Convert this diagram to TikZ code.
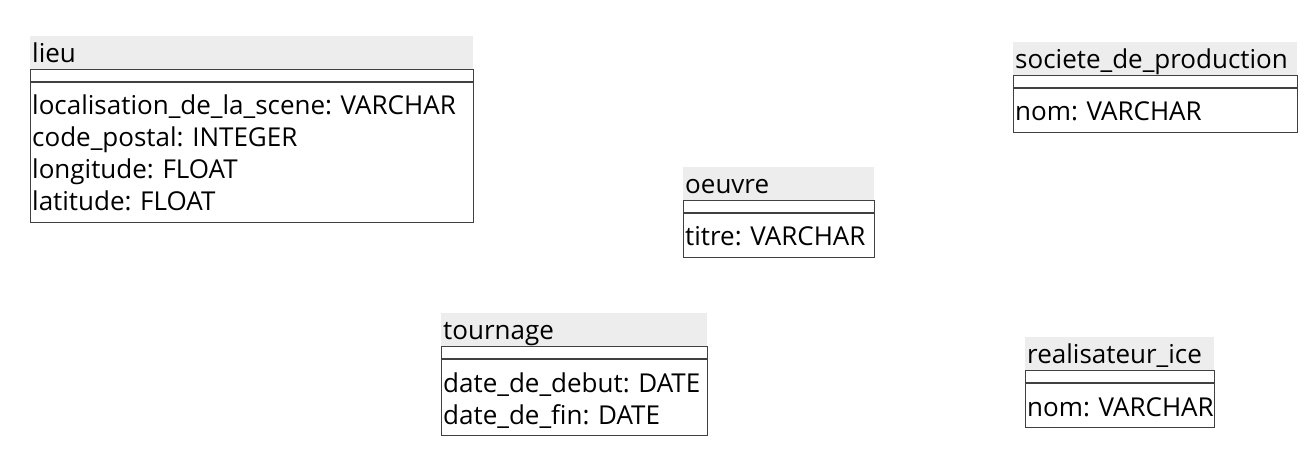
\documentclass[tikz,border=0pt]{standalone}
\usepackage{fontspec}
\setmainfont{Open Sans}
\frenchspacing
\usetikzlibrary{positioning}

% struts for the first and last attribute rows
\newcommand{\firstrow}{\rule{0pt}{30pt}}
\newcommand{\lastrow}{\rule[-8pt]{0pt}{8pt}}

\begin{document}
\begin{tikzpicture}[x=1pt, y=-1pt,
    every node/.style={anchor=north west, align=left, inner xsep=2pt, inner ysep=0pt, font=\fontsize{26}{32}\selectfont},
    head/.style={fill=black!7, inner ysep=2pt, text height=24pt, text depth=5pt},
    gap/.style={draw=black!75, minimum height=12pt},
    attrs/.style={draw=black!75, inner ysep=3pt}]
    \useasboundingbox (0,0) rectangle (1316,462);

    % lieu
    \node[head, text width=439pt] (lieu) at (30,36) {lieu};
    \node[gap, text width=439pt, below=0pt of lieu.south west, anchor=north west] (lieu-gap) {};
    \node[attrs, text width=439pt, below=0pt of lieu-gap.south west, anchor=north west] (lieu-attr) {\firstrow localisation\_de\_la\_scene:~VARCHAR\\code\_postal:~INTEGER\\longitude:~FLOAT\\latitude:~FLOAT\lastrow};

    % oeuvre
    \node[head, text width=187pt] (oeuvre) at (683,167) {oeuvre};
    \node[gap, text width=187pt, below=0pt of oeuvre.south west, anchor=north west] (oeuvre-gap) {};
    \node[attrs, text width=187pt, below=0pt of oeuvre-gap.south west, anchor=north west] (oeuvre-attr) {\firstrow titre:~VARCHAR\lastrow};

    % societe_de_production
    \node[head, text width=280pt] (societe) at (1013,42) {societe\_de\_production};
    \node[gap, text width=280pt, below=0pt of societe.south west, anchor=north west] (societe-gap) {};
    \node[attrs, text width=280pt, below=0pt of societe-gap.south west, anchor=north west] (societe-attr) {\firstrow nom:~VARCHAR\lastrow};

    % tournage
    \node[head, text width=262pt] (tournage) at (441,313) {tournage};
    \node[gap, text width=262pt, below=0pt of tournage.south west, anchor=north west] (tournage-gap) {};
    \node[attrs, text width=262pt, below=0pt of tournage-gap.south west, anchor=north west] (tournage-attr) {\firstrow date\_de\_debut:~DATE\\date\_de\_fin:~DATE\lastrow};

    % realisateur_ice
    \node[head, text width=185pt] (realisateur) at (1025,337) {realisateur\_ice};
    \node[gap, text width=185pt, below=0pt of realisateur.south west, anchor=north west] (realisateur-gap) {};
    \node[attrs, text width=185pt, below=0pt of realisateur-gap.south west, anchor=north west] (realisateur-attr) {\firstrow nom:~VARCHAR\lastrow};
\end{tikzpicture}
\end{document}
